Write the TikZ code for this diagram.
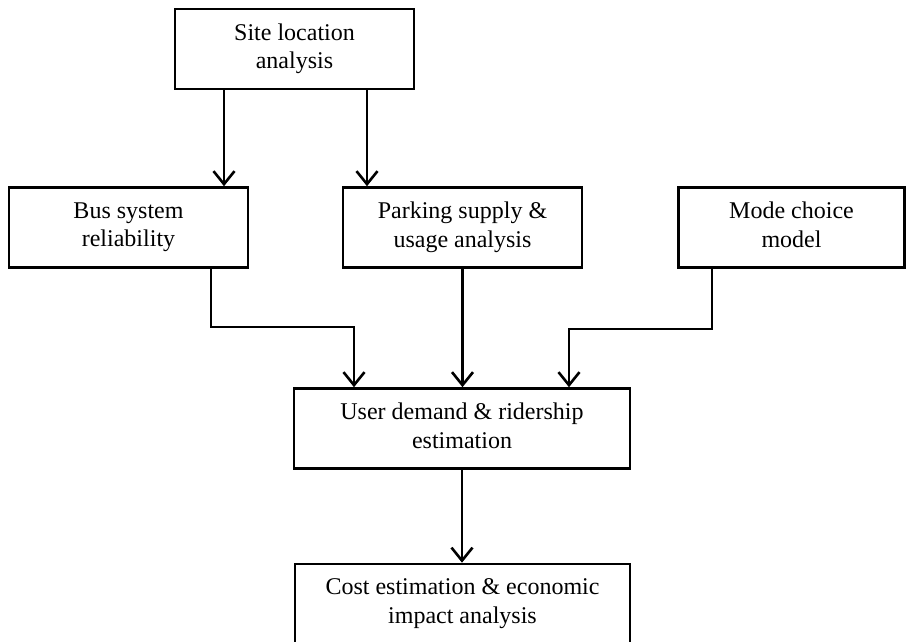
\documentclass[tikz,border=0pt]{standalone}
\usepackage{fontspec}
\setmainfont{Liberation Serif}
\usetikzlibrary{arrows.meta,calc}

\begin{document}
\begin{tikzpicture}[x=1pt,y=-1pt,>={Straight Barb[length=13pt,width=21pt,line width=2.6pt]},
  line width=2.6pt,
  block/.style={draw,minimum width=239pt,minimum height=80pt,align=center,inner sep=0pt,
    font=\fontsize{24}{28.5}\selectfont,
    execute at begin node=\rule{0pt}{18.5pt},execute at end node=\rule[-5.5pt]{0pt}{5.5pt}}]
\useasboundingbox (0,0) rectangle (906,642);
\node [block] (site) at (294.5,49) {Site location\\analysis};
\node [block] (bus) at (128.5,227.5) {Bus system\\reliability};
\node [block] (park) at (462.5,227.5) {Parking supply \&\\usage analysis};
\node [block,minimum width=226pt] (mode) at (791.5,227.5) {Mode choice\\model};
\node [block,minimum width=336pt] (user) at (462,428.5) {User demand \& ridership\\estimation};
\node [block,minimum width=335pt] (cost) at (462.5,604) {Cost estimation \& economic\\impact analysis};
\coordinate (s1) at (224,0);
\coordinate (s2) at (367,0);
\coordinate (b1) at (211,327);
\coordinate (b2) at (354,327);
\coordinate (m1) at (712,329);
\coordinate (m2) at (569,329);
\draw [->] (site.south -| s1) -- (bus.north -| s1);
\draw [->] (site.south -| s2) -- (park.north -| s2);
\draw [->] (bus.south -| b1) -- (b1) -- (b2) -- (user.north -| b2);
\draw [->] (park.south) -- (user.north -| park.south);
\draw [->] (mode.south -| m1) -- (m1) -- (m2) -- (user.north -| m2);
\draw [->] (user.south) -- (cost.north -| user.south);
\end{tikzpicture}
\end{document}
